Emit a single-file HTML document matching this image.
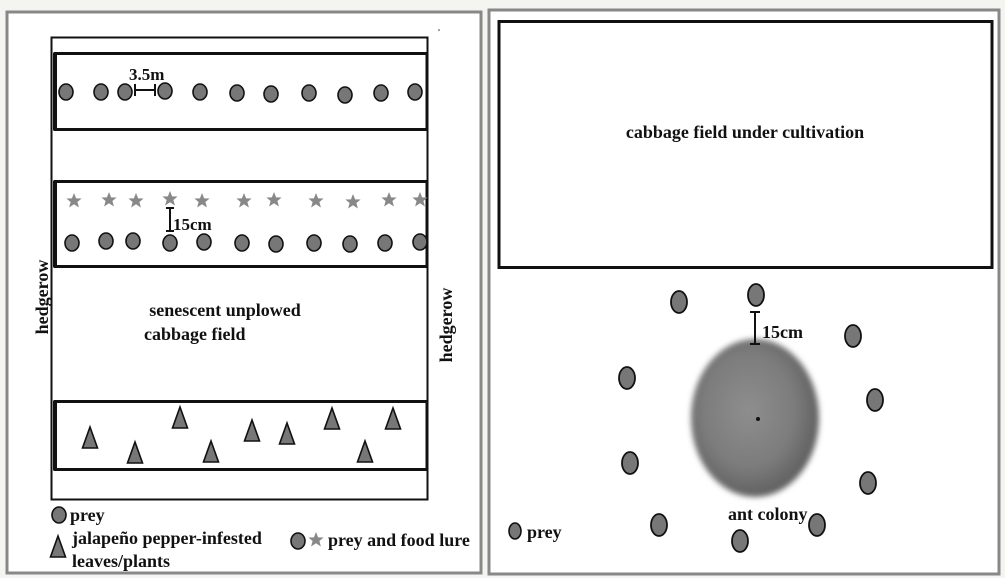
<!DOCTYPE html>
<html><head><meta charset="utf-8"><style>
html,body{margin:0;padding:0;background:#f4f4f0;}
svg{display:block;}
text{font-family:"Liberation Serif",serif;font-weight:bold;fill:#111;}
</style></head><body>
<svg width="1005" height="578" viewBox="0 0 1005 578" xmlns="http://www.w3.org/2000/svg">
<defs>
<filter id="bl" x="-20%" y="-20%" width="140%" height="140%"><feGaussianBlur stdDeviation="3"/></filter>
<radialGradient id="ag" cx="45%" cy="45%" r="60%"><stop offset="0" stop-color="#8e8e8e"/><stop offset="0.6" stop-color="#7c7c7c"/><stop offset="1" stop-color="#5a5a5a"/></radialGradient>
<g id="c"><ellipse cx="0" cy="0" rx="7" ry="8" fill="#777" stroke="#111" stroke-width="1.6"/></g>
<g id="C"><ellipse cx="0" cy="0" rx="8" ry="11" fill="#777" stroke="#111" stroke-width="1.8"/></g>
<polygon id="s" points="0,-8 2.1,-2.6 7.6,-2.5 3.4,1 4.9,6.5 0,3.3 -4.9,6.5 -3.4,1 -7.6,-2.5 -2.1,-2.6" fill="#888"/>
<polygon id="t" points="0,-11 7.5,10 -7.5,10" fill="#777" stroke="#111" stroke-width="1.6"/>
</defs>
<rect x="7" y="12" width="474" height="561" fill="#fff" stroke="#888" stroke-width="3"/>
<rect x="489" y="10" width="510" height="564" fill="#fff" stroke="#888" stroke-width="3"/>
<circle cx="439" cy="30" r="0.8" fill="#333"/><circle cx="958" cy="30" r="0.8" fill="#333"/>
<rect x="51.5" y="37.5" width="376" height="462" fill="none" stroke="#111" stroke-width="2"/>
<rect x="55" y="53.5" width="372" height="76" fill="#fff" stroke="#111" stroke-width="3"/>
<line x1="55" y1="53" x2="55" y2="130" stroke="#111" stroke-width="4"/>
<rect x="55" y="181.5" width="372" height="85" fill="#fff" stroke="#111" stroke-width="3"/>
<line x1="55" y1="181" x2="55" y2="267" stroke="#111" stroke-width="4"/>
<rect x="55" y="401.5" width="372" height="68" fill="#fff" stroke="#111" stroke-width="3"/>
<line x1="55" y1="401" x2="55" y2="470" stroke="#111" stroke-width="4"/>
<use href="#c" x="66" y="92"/><use href="#c" x="101" y="92"/><use href="#c" x="125" y="92"/><use href="#c" x="165" y="91"/><use href="#c" x="200" y="92"/><use href="#c" x="237" y="93"/><use href="#c" x="271" y="94"/><use href="#c" x="309" y="93"/><use href="#c" x="345" y="95"/><use href="#c" x="381" y="93"/><use href="#c" x="415" y="92"/>
<path d="M135 84V96M135 90H155M155 84V96" stroke="#111" stroke-width="2" fill="none"/>
<text x="129" y="80" font-size="17">3.5m</text>
<use href="#s" x="74" y="201"/><use href="#s" x="109" y="200"/><use href="#s" x="136" y="201"/><use href="#s" x="170" y="199"/><use href="#s" x="202" y="201"/><use href="#s" x="244" y="201"/><use href="#s" x="274" y="200"/><use href="#s" x="316" y="201"/><use href="#s" x="353" y="202"/><use href="#s" x="389" y="200"/><use href="#s" x="420" y="200"/>
<use href="#c" x="72" y="243"/><use href="#c" x="106" y="241"/><use href="#c" x="133" y="241"/><use href="#c" x="170" y="243"/><use href="#c" x="204" y="242"/><use href="#c" x="242" y="243"/><use href="#c" x="276" y="244"/><use href="#c" x="314" y="243"/><use href="#c" x="350" y="244"/><use href="#c" x="385" y="243"/><use href="#c" x="420" y="242"/>
<path d="M166 208H174M170 208V231M166 231H174" stroke="#111" stroke-width="2" fill="none"/>
<text x="173" y="230" font-size="17">15cm</text>
<use href="#t" x="90" y="438"/><use href="#t" x="135" y="453"/><use href="#t" x="180" y="418"/><use href="#t" x="211" y="452"/><use href="#t" x="252" y="431"/><use href="#t" x="287" y="434"/><use href="#t" x="332" y="419"/><use href="#t" x="365" y="452"/><use href="#t" x="393" y="419"/>
<text x="225" y="316" font-size="18" text-anchor="middle">senescent unplowed</text>
<text x="144" y="340" font-size="18">cabbage field</text>
<text transform="translate(48,297) rotate(-90)" font-size="18" text-anchor="middle">hedgerow</text>
<text transform="translate(452,325) rotate(-90)" font-size="18" text-anchor="middle">hedgerow</text>
<use href="#c" x="59" y="515"/><text x="70" y="521" font-size="18">prey</text>
<use href="#t" x="58" y="547"/><text x="72" y="544" font-size="18">jalapeño pepper-infested</text>
<text x="72" y="567" font-size="18">leaves/plants</text>
<use href="#c" x="298" y="541"/><use href="#s" x="316" y="540"/><text x="328" y="546" font-size="18">prey and food lure</text>
<rect x="499" y="21.5" width="493" height="246" fill="#fff" stroke="#111" stroke-width="3"/>
<text x="745" y="138" font-size="18" text-anchor="middle">cabbage field under cultivation</text>
<ellipse cx="755" cy="418" rx="64" ry="79" fill="url(#ag)" filter="url(#bl)"/>
<circle cx="758" cy="419" r="2" fill="#111"/>
<use href="#C" x="679" y="302"/><use href="#C" x="756" y="295"/><use href="#C" x="853" y="336"/><use href="#C" x="627" y="378"/><use href="#C" x="875" y="400"/><use href="#C" x="630" y="463"/><use href="#C" x="868" y="483"/><use href="#C" x="659" y="525"/><use href="#C" x="740" y="541"/><use href="#C" x="817" y="525"/>
<path d="M750 312H760M755 312V344M750 344H760" stroke="#111" stroke-width="2" fill="none"/>
<text x="762" y="338" font-size="18">15cm</text>
<text x="728" y="520" font-size="18">ant colony</text>
<ellipse cx="515" cy="531" rx="6" ry="8" fill="#777" stroke="#111" stroke-width="1.6"/>
<text x="527" y="538" font-size="18">prey</text>
</svg>
</body></html>
